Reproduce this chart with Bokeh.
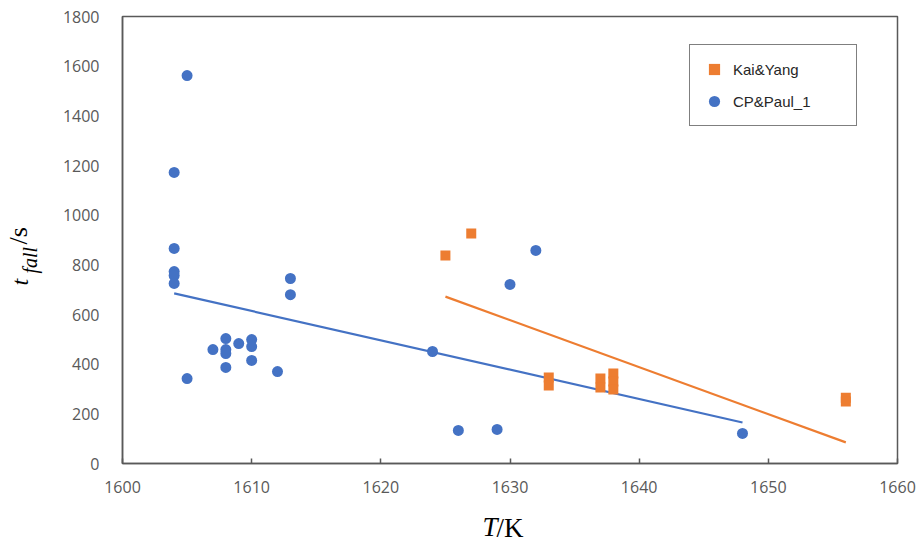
import math
from bokeh.plotting import figure
from bokeh.models import (Range1d, FixedTicker, Legend, LegendItem, Label,
                          LinearAxis)
from bokeh.embed import file_html
from bokeh.resources import INLINE

# Kai&Yang (orange squares)
ky_T = [1625, 1627, 1633, 1633, 1637, 1637, 1638, 1638, 1638, 1656, 1656]
ky_t = [838, 926, 346, 314, 342, 306, 362, 330, 298, 265, 250]

# CP&Paul_1 (blue circles)
cp_T = [1605, 1604, 1604, 1604, 1604, 1604, 1613, 1613, 1605, 1607, 1608, 1608,
        1608, 1608, 1609, 1610, 1610, 1610, 1612, 1624, 1626, 1629, 1630, 1632, 1648]
cp_t = [1562, 1172, 866, 773, 757, 725, 745, 680, 342, 459, 503, 459,
        443, 387, 483, 499, 471, 415, 370, 451, 133, 137, 721, 858, 121]

# linear trend lines (endpoints)
ky_trend_T = [1625, 1656]
ky_trend_t = [672, 85]
cp_trend_T = [1604, 1648]
cp_trend_t = [685, 165]

x_ticks = [1600, 1610, 1620, 1630, 1640, 1650, 1660]
y_ticks = [0, 200, 400, 600, 800, 1000, 1200, 1400, 1600, 1800]

BLUE = "#4472C4"
ORANGE = "#ED7D31"
GREY = "#595959"

p = figure(width=920, height=549, output_backend="svg", toolbar_location=None,
           x_range=Range1d(1600, 1660), y_range=Range1d(0, 1800),
           min_border_left=122, min_border_right=23, min_border_top=16,
           min_border_bottom=86)
p.background_fill_color = "white"
p.border_fill_color = "white"
p.outline_line_color = GREY
p.outline_line_width = 1.5
p.xgrid.visible = False
p.ygrid.visible = False

for ax in (p.xaxis, p.yaxis):
    ax.axis_line_color = GREY
    ax.axis_line_width = 1.5
    ax.major_label_text_font = "Open Sans"
    ax.major_label_text_font_size = "16px"
    ax.major_label_text_color = GREY
    ax.minor_tick_line_color = None
    ax.major_label_standoff = 17

p.xaxis.ticker = FixedTicker(ticks=x_ticks)
p.yaxis.ticker = FixedTicker(ticks=y_ticks)
p.xaxis.major_tick_in = 5
p.xaxis.major_tick_out = 0
p.xaxis.major_tick_line_color = GREY
p.xaxis.major_tick_line_width = 1.5
p.yaxis.major_tick_line_color = None

l_cp = p.line(cp_trend_T, cp_trend_t, line_color=BLUE, line_width=2.2)
l_ky = p.line(ky_trend_T, ky_trend_t, line_color=ORANGE, line_width=2.2)

r_ky = p.scatter(ky_T, ky_t, marker="square", size=10, fill_color=ORANGE,
                 line_color=ORANGE, line_width=0)
r_cp = p.scatter(cp_T, cp_t, marker="circle", size=11, fill_color=BLUE,
                 line_color=BLUE, line_width=0)

legend = Legend(items=[LegendItem(label="Kai&Yang", renderers=[r_ky]),
                       LegendItem(label="CP&Paul_1", renderers=[r_cp])],
                location=(567, 337))
legend.border_line_color = "black"
legend.border_line_width = 1
legend.background_fill_color = "white"
legend.background_fill_alpha = 1
legend.label_text_font = "Liberation Sans"
legend.label_text_font_size = "15px"
legend.label_text_color = "#262626"
legend.padding = 10
legend.margin = 0
legend.spacing = 4
legend.label_height = 28
legend.glyph_height = 28
legend.glyph_width = 28
legend.label_standoff = 5
legend.label_width = 113
p.add_layout(legend)

SERIF = "Liberation Serif"
ang = math.pi / 2

def lab(x, y, text, size, italic, angle=0.0, align="left"):
    return Label(x=x, y=y, x_units="canvas", y_units="canvas", text=text,
                 angle=angle, text_font=SERIF,
                 text_font_style="italic" if italic else "normal",
                 text_font_size=size, text_color="black",
                 text_baseline="alphabetic", text_align=align)

# x-axis label: T (italic) + /K (label of an extra, tick-less axis)
p.add_layout(lab(497, 526, "T", "27px", True, align="right"), "below")
kaxis = LinearAxis(ticker=FixedTicker(ticks=[]), axis_label="/K",
                   axis_line_color=None, major_tick_line_color=None,
                   minor_tick_line_color=None, major_label_standoff=0,
                   axis_label_standoff=-13,
                   axis_label_text_font=SERIF,
                   axis_label_text_font_style="normal",
                   axis_label_text_font_size="27px",
                   axis_label_text_color="black")
p.add_layout(kaxis, "below")

# y-axis label: t_fall/s (rotated)
p.add_layout(lab(19, 285, "t", "24px", True, ang), "left")
p.add_layout(lab(29, 273, "fall", "20px", True, ang), "right")
p.add_layout(lab(18, 244, "/s", "26px", False, ang), "left")

open("out.html", "w").write(file_html(p, INLINE))
